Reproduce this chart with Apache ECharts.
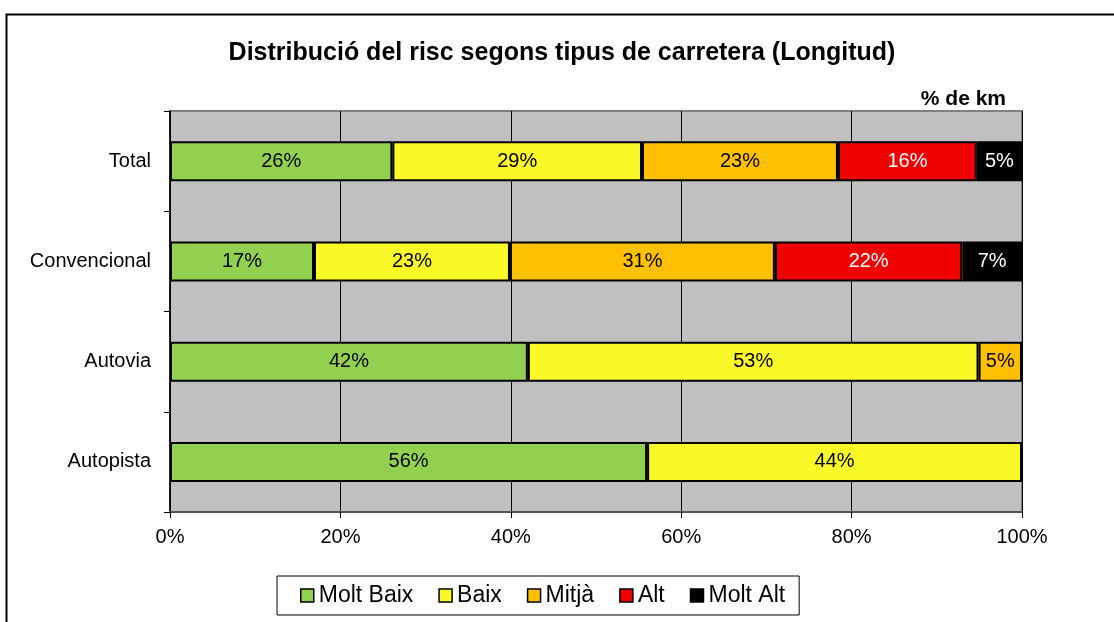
<!DOCTYPE html>
<html>
<head>
<meta charset="utf-8">
<script src="https://cdn.jsdelivr.net/npm/echarts@6/dist/echarts.min.js"></script>
<style>
html,body{margin:0;padding:0;background:#fff;}
#chart{width:1114px;height:622px;}
</style>
</head>
<body>
<div id="chart"></div>
<script>
const categories = ['Total', 'Convencional', 'Autovia', 'Autopista'];
const seriesNames = ['Molt Baix', 'Baix', 'Mitjà', 'Alt', 'Molt Alt'];
const moltBaix = [26.1, 16.9, 42.0, 56.0];
const baix = [29.3, 23.0, 52.9, 44.0];
const mitja = [23.0, 31.1, 5.1, 0];
const alt = [16.3, 22.0, 0, 0];
const moltAlt = [5.3, 7.0, 0, 0];
const xTicks = [0, 20, 40, 60, 80, 100];

const colors = ['#92d050', '#fafa28', '#ffc000', '#f00000', '#000000'];
const labelColors = ['#000', '#000', '#000', '#fff', '#fff'];
const values = [moltBaix, baix, mitja, alt, moltAlt];
const FONT = '"Liberation Sans", Arial, sans-serif';

const chart = echarts.init(document.getElementById('chart'), null, {renderer: 'canvas'});
const series = seriesNames.map((name, i) => ({
  name: name,
  type: 'bar',
  stack: 'total',
  barWidth: 40,
  data: values[i].map(v => v === 0 ? null : v),
  itemStyle: {color: colors[i], borderColor: '#000', borderWidth: i === 4 ? 0 : 2},
  label: {
    show: true,
    position: 'inside',
    color: labelColors[i],
    fontFamily: FONT,
    fontSize: 20,
    formatter: p => Math.round(p.value) + '%'
  },
  emphasis: {disabled: true}
}));

chart.setOption({
  animation: false,
  backgroundColor: '#fff',
  title: [{
    text: 'Distribució del risc segons tipus de carretera (Longitud)',
    left: 557, top: 36, textAlign: 'center',
    textStyle: {fontFamily: FONT, fontSize: 25, fontWeight: 'bold', color: '#000'}
  }, {
    text: '% de km',
    left: 1001, top: 84, textAlign: 'right',
    textStyle: {fontFamily: FONT, fontSize: 21, fontWeight: 'bold', color: '#000'}
  }],
  graphic: [{
    type: 'rect', silent: true,
    shape: {x: 6.5, y: 14.5, width: 1200, height: 700},
    style: {fill: 'none', stroke: '#000', lineWidth: 2}
  }],
  legend: {
    left: 277, top: 576,
    height: 39,
    padding: [8, 14, 8, 23],
    borderColor: '#000', borderWidth: 1,
    backgroundColor: '#fff',
    itemGap: 25, itemWidth: 13, itemHeight: 13,
    icon: 'rect',
    itemStyle: {borderColor: '#000', borderWidth: 1.5},
    textStyle: {fontFamily: FONT, fontSize: 23, color: '#000', padding: [0, 0, 0, 0]},
    data: seriesNames
  },
  grid: {
    left: 170, right: 92, top: 111, bottom: 110,
    show: true, backgroundColor: '#c0c0c0', borderColor: '#808080', borderWidth: 2
  },
  xAxis: {
    type: 'value', min: 0, max: 100, interval: 20,
    axisLine: {show: true, lineStyle: {color: '#555', width: 2}},
    axisTick: {show: true, length: 6, lineStyle: {color: '#000'}},
    splitLine: {show: true, lineStyle: {color: '#000', width: 1}},
    axisLabel: {
      fontFamily: FONT, fontSize: 20, color: '#000', margin: 15,
      formatter: v => xTicks.indexOf(v) >= 0 ? v + '%' : ''
    }
  },
  yAxis: {
    type: 'category', data: categories, inverse: true,
    axisLine: {show: true, lineStyle: {color: '#000', width: 1.5}},
    axisTick: {show: true, length: 6, alignWithLabel: false, lineStyle: {color: '#000'}},
    splitLine: {show: false},
    axisLabel: {fontFamily: FONT, fontSize: 20, color: '#000', margin: 19}
  },
  series: series
});
</script>
</body>
</html>
